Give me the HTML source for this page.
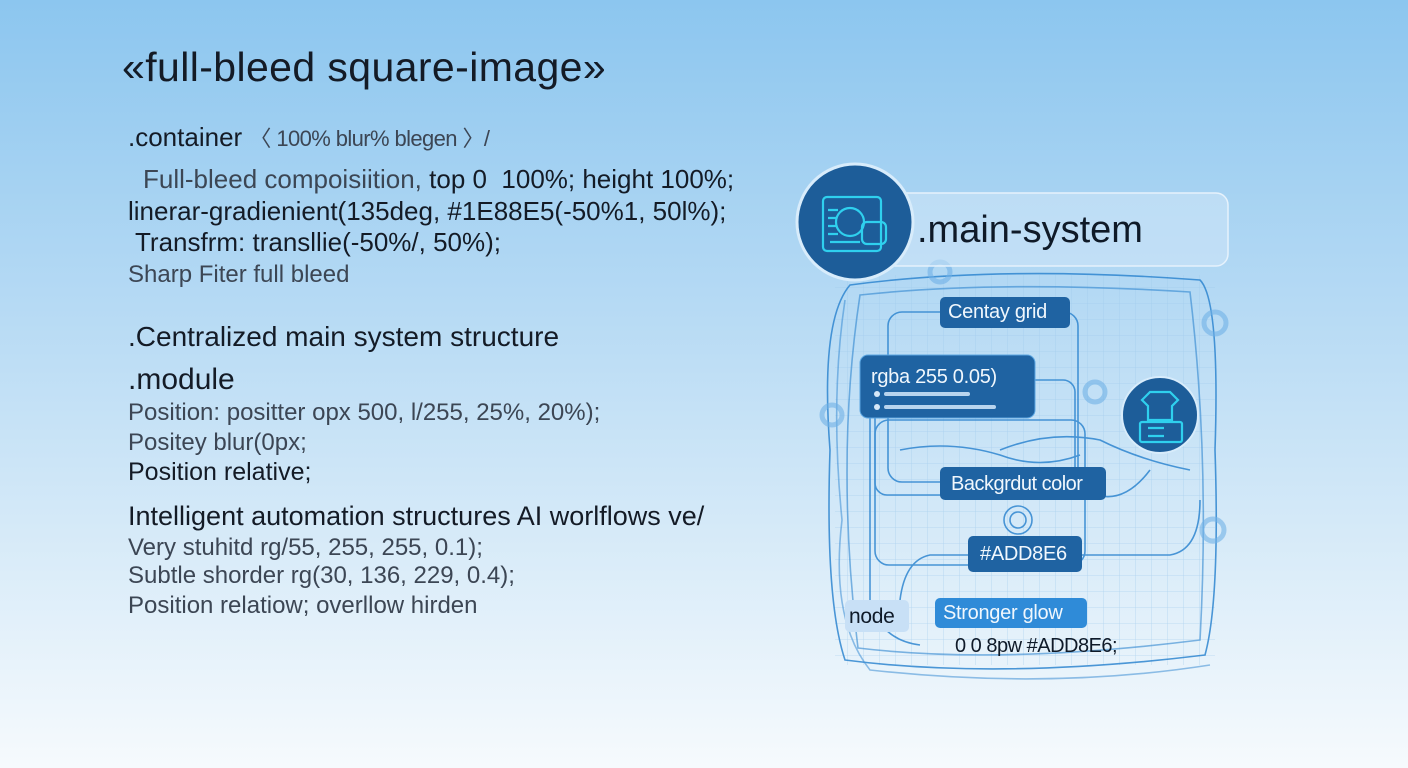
<!DOCTYPE html>
<html><head><meta charset="utf-8"><style>
html,body{margin:0;padding:0}
body{width:1408px;height:768px;overflow:hidden;position:relative;background:linear-gradient(180deg,#8cc6ef 0%,#b6daf4 40%,#dcedf9 75%,#f6fafd 100%);font-family:"Liberation Sans",sans-serif;color:#141b26}
.t{position:absolute;white-space:nowrap;line-height:1;letter-spacing:0}
.g{color:#3c4654}
</style></head><body>
<div class="t" style="left:122px;top:47px;font-size:41px;letter-spacing:0.4px">«full-bleed square-image»</div>
<div class="t" style="left:128px;top:124px;font-size:26px"><span>.container</span> <span class="g" style="font-size:22px;letter-spacing:-0.6px">〈 100% blur% blegen 〉/</span></div>
<div class="t" style="left:143px;top:166px;font-size:26px"><span class="g">Full-bleed compoisiition,</span> top 0&nbsp; 100%; height 100%;</div>
<div class="t" style="left:128px;top:198px;font-size:26px">linerar-gradienient(135deg, #1E88E5(-50%1, 50l%);</div>
<div class="t" style="left:135px;top:229px;font-size:26px">Transfrm: transllie(-50%/, 50%);</div>
<div class="t g" style="left:128px;top:263px;font-size:24px">Sharp Fiter full bleed</div>
<div class="t" style="left:128px;top:323px;font-size:28px">.Centralized main system structure</div>
<div class="t" style="left:128px;top:365px;font-size:30px">.module</div>
<div class="t g" style="left:128px;top:401px;font-size:24px">Position: positter opx 500, l/255, 25%, 20%);</div>
<div class="t g" style="left:128px;top:431px;font-size:24px">Positey blur(0px;</div>
<div class="t" style="left:128px;top:460px;font-size:25px">Position relative;</div>
<div class="t" style="left:128px;top:503px;font-size:27px">Intelligent automation structures AI worlflows ve/</div>
<div class="t g" style="left:128px;top:536px;font-size:24px">Very stuhitd rg/55, 255, 255, 0.1);</div>
<div class="t g" style="left:128px;top:564px;font-size:24px">Subtle shorder rg(30, 136, 229, 0.4);</div>
<div class="t g" style="left:128px;top:594px;font-size:24px">Position relatiow; overllow hirden</div>

<svg style="position:absolute;left:0;top:0" width="1408" height="768">
<defs>
<pattern id="gr" width="16" height="16" patternUnits="userSpaceOnUse"><path d="M16 0V16H0" fill="none" stroke="#9cc8ec" stroke-width="0.8"/></pattern>
</defs>
<rect x="835" y="275" width="380" height="390" fill="url(#gr)" opacity="0.7"/>
<g fill="none" stroke="#2f86d0" stroke-width="1.6" opacity="0.85">
<path d="M850 285 Q1000 265 1200 280 Q1220 300 1215 450 Q1220 600 1205 655 Q1000 680 845 660 Q825 600 830 450 Q820 320 850 285Z"/>
<path d="M860 295 Q1000 280 1190 292 Q1210 460 1200 640 Q1000 665 858 648 Q835 460 860 295Z" opacity="0.7"/>
<path d="M845 300 Q830 400 842 520 Q830 620 870 670 Q1050 690 1210 665" opacity="0.6"/>
<rect x="888" y="312" width="190" height="170" rx="14"/>
<rect x="875" y="380" width="200" height="115" rx="12"/>
<rect x="875" y="420" width="210" height="145" rx="14"/>
<path d="M900 600 Q905 560 930 555 L1170 555 Q1200 550 1200 500"/>
<path d="M870 400 L870 600 Q880 640 920 645"/>
<path d="M1085 490 Q1120 510 1150 470 M1000 450 Q1050 430 1100 440 Q1140 460 1190 470"/>
<path d="M900 450 Q950 440 1000 455 Q1040 470 1080 455"/>
<circle cx="1060" cy="485" r="10"/>
<circle cx="1018" cy="520" r="14"/><circle cx="1018" cy="520" r="8"/>
</g>
<g fill="none" stroke="#6fb1e6" stroke-width="5" opacity="0.6">
<circle cx="1215" cy="323" r="11"/><circle cx="1213" cy="530" r="11"/><circle cx="832" cy="415" r="10"/><circle cx="1095" cy="392" r="10"/><circle cx="940" cy="272" r="10"/>
</g>
<rect x="880" y="193" width="348" height="73" rx="12" fill="#cfe6f8" fill-opacity="0.55" stroke="#e6f2fc" stroke-width="1.5"/>
<circle cx="855" cy="222" r="58" fill="#1d5d99" stroke="#d8ecfb" stroke-width="3"/>
<g fill="none" stroke="#2fd0ee" stroke-width="2.2">
<rect x="823" y="197" width="58" height="54" rx="4"/>
<circle cx="850" cy="222" r="14"/>
<path d="M828 210h10M828 218h8M828 226h8M828 234h10M830 242h30"/>
<rect x="862" y="222" width="24" height="22" rx="5"/>
</g>
<circle cx="1160" cy="415" r="38" fill="#1d5d99" stroke="#d8ecfb" stroke-width="2"/>
<g fill="none" stroke="#2fd0ee" stroke-width="2.2">
<path d="M1142 400 l8-8 h20 l8 8 -6 6 v14 h-24 v-14z"/>
<rect x="1140" y="422" width="42" height="20" rx="2"/>
<path d="M1148 428h16M1148 436h16"/>
</g>
<rect x="940" y="297" width="130" height="31" rx="5" fill="#1f63a2"/>
<rect x="860" y="355" width="175" height="63" rx="8" fill="#1f63a2" stroke="#5ba6e2"/>
<circle cx="877" cy="394" r="3" fill="#d6e8f8"/><rect x="884" y="392" width="86" height="4" rx="2" fill="#b8d4ee"/>
<circle cx="877" cy="407" r="3" fill="#d6e8f8"/><rect x="884" y="405" width="112" height="4" rx="2" fill="#b8d4ee"/>
<rect x="940" y="467" width="166" height="33" rx="5" fill="#1f63a2"/>
<rect x="968" y="536" width="114" height="36" rx="5" fill="#1f63a2"/>
<rect x="845" y="600" width="64" height="32" rx="5" fill="#c8e0f6"/>
<rect x="935" y="598" width="152" height="30" rx="5" fill="#2f8bd8"/>
</svg>
<div class="t" style="left:917px;top:211px;font-size:38px;color:#0f1a28">.main-system</div>
<div class="t" style="left:948px;top:302px;font-size:20px;color:#f0f7fd;letter-spacing:-0.3px">Centay grid</div>
<div class="t" style="left:871px;top:367px;font-size:20px;color:#f0f7fd;letter-spacing:-0.3px">rgba 255 0.05)</div>
<div class="t" style="left:951px;top:474px;font-size:20px;color:#f0f7fd;letter-spacing:-0.5px">Backgrdut color</div>
<div class="t" style="left:980px;top:544px;font-size:20px;color:#f0f7fd;letter-spacing:-0.3px">#ADD8E6</div>
<div class="t" style="left:849px;top:606px;font-size:21px;color:#0f1a28;letter-spacing:-0.3px">node</div>
<div class="t" style="left:943px;top:603px;font-size:20px;color:#f0f7fd;letter-spacing:-0.3px">Stronger glow</div>
<div class="t" style="left:955px;top:636px;font-size:20px;color:#0f1a28;letter-spacing:-0.5px">0 0 8pw #ADD8E6;</div>
</body></html>
